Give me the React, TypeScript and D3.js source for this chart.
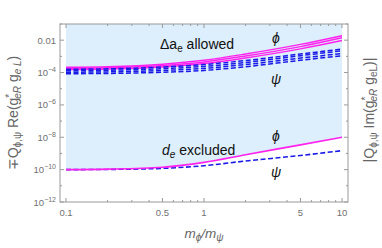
import React from "react";
import * as d3 from "d3";

const ratios = [0.1, 0.2, 0.5, 1, 2, 5, 10];

// upper group: Δa_e allowed band (Re part)
const phiUpper = [
  [2.1e-4, 2.3e-4, 3.3e-4, 5.8e-4, 1.4e-3, 5.5e-3, 1.9e-2],
  [1.8e-4, 1.95e-4, 2.7e-4, 4.5e-4, 1.05e-3, 4.0e-3, 1.4e-2],
  [1.55e-4, 1.65e-4, 2.2e-4, 3.6e-4, 8.0e-4, 2.9e-3, 9.5e-3],
];
const psiUpper = [
  [1.6e-4, 1.7e-4, 2.2e-4, 3.1e-4, 5.5e-4, 1.4e-3, 2.8e-3],
  [1.3e-4, 1.38e-4, 1.75e-4, 2.4e-4, 4.2e-4, 1.1e-3, 2.2e-3],
  [1.05e-4, 1.1e-4, 1.35e-4, 1.8e-4, 3.1e-4, 7.8e-4, 1.5e-3],
  [8.5e-5, 8.8e-5, 1.05e-4, 1.35e-4, 2.3e-4, 5.7e-4, 1.1e-3],
];

// lower group: d_e bound (Im part)
const phiLower = [1.0e-10, 1.07e-10, 1.4e-10, 2.8e-10, 8.3e-10, 3.4e-9, 1.0e-8];
const psiLower = [1.0e-10, 1.03e-10, 1.2e-10, 1.75e-10, 3.4e-10, 7.5e-10, 1.5e-9];

const xMajor = [0.1, 0.5, 1, 5, 10];
const xMajorLabels = ["0.1", "0.5", "1", "5", "10"];
const xMinor = [0.2, 0.3, 0.4, 0.6, 0.7, 0.8, 0.9, 2, 3, 4, 6, 7, 8, 9];
const yMajorExp = [-12, -10, -8, -6, -4, -2];
const yMinorExp = [-11, -9, -7, -5, -3, -1];

const W = 382;
const H = 248;
const frame = { left: 60, right: 348, top: 24, bottom: 202 };

const x = d3.scaleLog().domain([0.1, 10]).range([66, 342]);
const y = d3.scaleLog().domain([1e-12, 1e-1]).range([202, 24]);

const line = d3
  .line<[number, number]>()
  .x((d) => x(d[0]))
  .y((d) => y(d[1]))
  .curve(d3.curveMonotoneX);

const pts = (vals: number[]) => ratios.map((r, i) => [r, vals[i]] as [number, number]);

const area = d3
  .area<[number, number]>()
  .x((d) => x(d[0]))
  .y0(y(1e-1))
  .y1((d) => y(d[1]))
  .curve(d3.curveMonotoneX);

const axisColor = "#9a9a9a";
const labelColor = "#707070";
const titleColor = "#666";
const magenta = "#ff22ee";
const blue = "#1a1ae6";

const App: React.FC = () => {
  return (
    <svg
      width={W}
      height={H}
      style={{ position: "absolute", left: 0, top: 0, fontFamily: "Liberation Sans, Arial, sans-serif" }}
    >
      <rect width={W} height={H} fill="#fff" />
      {/* shaded region above the d_e line */}
      <path d={area(pts(phiLower)) ?? ""} fill="#ddeefc" />

      {/* curves */}
      {phiUpper.map((v, i) => (
        <path key={"pu" + i} d={line(pts(v)) ?? ""} fill="none" stroke={magenta} strokeWidth={1.5} />
      ))}
      {psiUpper.map((v, i) => (
        <path
          key={"su" + i}
          d={line(pts(v)) ?? ""}
          fill="none"
          stroke={blue}
          strokeWidth={1.5}
          strokeDasharray="5,2.5"
        />
      ))}
      <path d={line(pts(psiLower)) ?? ""} fill="none" stroke={blue} strokeWidth={1.6} strokeDasharray="5,2.5" />
      <path d={line(pts(phiLower)) ?? ""} fill="none" stroke={magenta} strokeWidth={1.6} />

      {/* frame */}
      <rect
        x={frame.left}
        y={frame.top}
        width={frame.right - frame.left}
        height={frame.bottom - frame.top}
        fill="none"
        stroke={axisColor}
        strokeWidth={1}
      />

      {/* x ticks */}
      {xMajor.map((t) => (
        <g key={"xM" + t}>
          <line x1={x(t)} x2={x(t)} y1={frame.bottom} y2={frame.bottom - 4} stroke={axisColor} />
          <line x1={x(t)} x2={x(t)} y1={frame.top} y2={frame.top + 4} stroke={axisColor} />
        </g>
      ))}
      {xMinor.map((t) => (
        <g key={"xm" + t}>
          <line x1={x(t)} x2={x(t)} y1={frame.bottom} y2={frame.bottom - 2} stroke={axisColor} />
          <line x1={x(t)} x2={x(t)} y1={frame.top} y2={frame.top + 2} stroke={axisColor} />
        </g>
      ))}
      {xMajor.map((t, i) => (
        <text key={"xl" + t} x={x(t)} y={216} textAnchor="middle" fontSize={9.5} fill={labelColor}>
          {xMajorLabels[i]}
        </text>
      ))}

      {/* y ticks */}
      {yMajorExp.map((e) => (
        <g key={"yM" + e}>
          <line x1={frame.left} x2={frame.left + 4} y1={y(Math.pow(10, e))} y2={y(Math.pow(10, e))} stroke={axisColor} />
          <line x1={frame.right} x2={frame.right - 4} y1={y(Math.pow(10, e))} y2={y(Math.pow(10, e))} stroke={axisColor} />
        </g>
      ))}
      {yMinorExp.map((e) => (
        <g key={"ym" + e}>
          <line x1={frame.left} x2={frame.left + 2} y1={y(Math.pow(10, e))} y2={y(Math.pow(10, e))} stroke={axisColor} />
          <line x1={frame.right} x2={frame.right - 2} y1={y(Math.pow(10, e))} y2={y(Math.pow(10, e))} stroke={axisColor} />
        </g>
      ))}
      {yMajorExp.map((e) => (
        <text key={"yl" + e} x={56} y={y(Math.pow(10, e)) + 3.5} textAnchor="end" fontSize={9.5} fill={labelColor}>
          {e === -2 ? (
            "0.01"
          ) : (
            <>
              10
              <tspan fontSize={7} dy={-4}>
                {"\u2212" + -e}
              </tspan>
            </>
          )}
        </text>
      ))}

      {/* annotations */}
      <text x={160} y={49} fontSize={14} fill="#111">
        Δa<tspan fontSize={10} dy={3}>e</tspan>
        <tspan dy={-3}> allowed</tspan>
      </text>
      <text x={276} y={43} fontSize={14} fontStyle="italic" textAnchor="middle" fill="#111">ϕ</text>
      <text x={276} y={84} fontSize={14} fontStyle="italic" textAnchor="middle" fill="#111">ψ</text>
      <text x={162} y={155} fontSize={14} fill="#111">
        <tspan fontStyle="italic">d</tspan>
        <tspan fontSize={10} dy={3} fontStyle="italic">e</tspan>
        <tspan dy={-3}> excluded</tspan>
      </text>
      <text x={276} y={141} fontSize={14} fontStyle="italic" textAnchor="middle" fill="#111">ϕ</text>
      <text x={276} y={177} fontSize={14} fontStyle="italic" textAnchor="middle" fill="#111">ψ</text>

      {/* axis titles */}
      <text x={204} y={238} fontSize={13.5} textAnchor="middle" fill={titleColor} fontStyle="italic">
        m<tspan fontSize={10} dy={3}>ϕ</tspan>
        <tspan dy={-3}>/m</tspan>
        <tspan fontSize={10} dy={3}>ψ</tspan>
      </text>
      <text
        transform={`translate(18,${(frame.top + frame.bottom) / 2}) rotate(-90)`}
        textAnchor="middle"
        fontSize={14}
        fill={titleColor}
      >
        ∓Q<tspan fontSize={10} dy={3}>ϕ,ψ</tspan>
        <tspan dy={-3}> Re(g</tspan>
        <tspan fontSize={10} dy={-5}>*</tspan>
        <tspan fontSize={10} dx={-5} dy={8} fontStyle="italic">eR</tspan>
        <tspan dy={-3}>  g</tspan>
        <tspan fontSize={10} dy={3} fontStyle="italic">e L</tspan>
        <tspan dy={-3}>)</tspan>
      </text>
      <text
        transform={`translate(374,${(frame.top + frame.bottom) / 2 - 3}) rotate(-90)`}
        textAnchor="middle"
        fontSize={14}
        fill={titleColor}
      >
        |Q<tspan fontSize={10} dy={3}>ϕ,ψ</tspan>
        <tspan dy={-3}> Im(g</tspan>
        <tspan fontSize={10} dy={-5}>*</tspan>
        <tspan fontSize={10} dx={-5} dy={8} fontStyle="italic">eR</tspan>
        <tspan dy={-3}>  g</tspan>
        <tspan fontSize={10} dy={3}>eL</tspan>
        <tspan dy={-3}>)|</tspan>
      </text>
    </svg>
  );
};

export default App;
